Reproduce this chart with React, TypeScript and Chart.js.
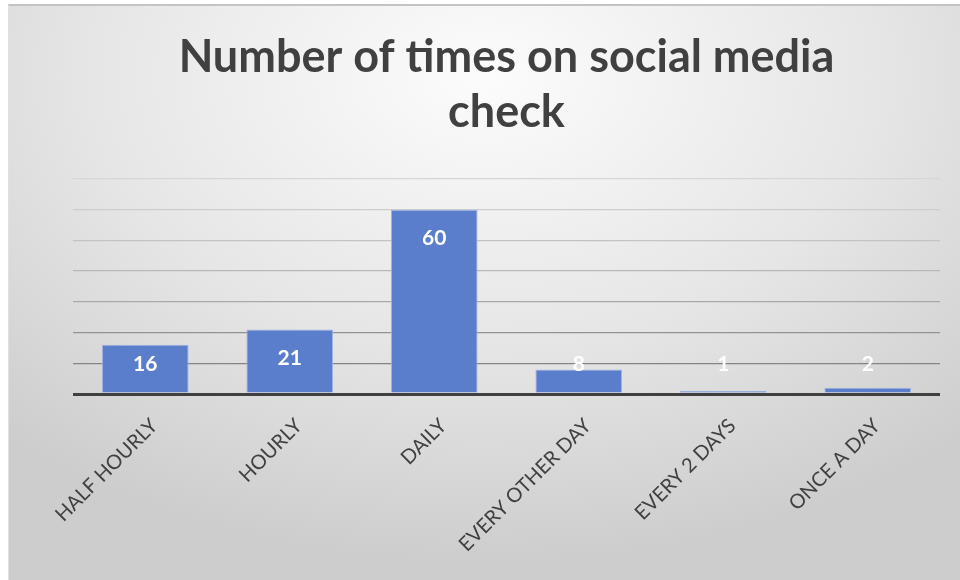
import React, { useEffect, useRef } from "react";
import { Chart, registerables } from "chart.js";

Chart.register(...registerables);

const TITLE_LINES = ["Number of times on social media", "check"];
const CATEGORIES = ["HALF HOURLY", "HOURLY", "DAILY", "EVERY OTHER DAY", "EVERY 2 DAYS", "ONCE A DAY"];
const VALUES = [16, 21, 60, 8, 1, 2];
const Y_TICKS = [0, 10, 20, 30, 40, 50, 60, 70];

const GRID_COLORS: Record<number, string> = {
  10: "#858585",
  20: "#939393",
  30: "#a9a9a9",
  40: "#b8b8b8",
  50: "#c3c3c3",
  60: "#cdcdcd",
  70: "#d6d6d6",
};

const valueLabels = {
  id: "valueLabels",
  afterDatasetsDraw(chart: any) {
    const ctx = chart.ctx;
    const meta = chart.getDatasetMeta(0);
    ctx.save();
    ctx.fillStyle = "#ffffff";
    ctx.font = "bold 21px Lato";
    ctx.textAlign = "center";
    ctx.textBaseline = "middle";
    meta.data.forEach((bar: any, i: number) => {
      const y = Math.min(bar.y + 29, bar.base - 28);
      ctx.fillText(String(VALUES[i]), bar.x, y);
    });
    ctx.restore();
  },
};

export default function App() {
  const ref = useRef<HTMLCanvasElement>(null);
  useEffect(() => {
    if (!ref.current) return;
    const chart = new Chart(ref.current, {
      type: "bar",
      data: {
        labels: CATEGORIES,
        datasets: [
          {
            data: VALUES,
            backgroundColor: "#5a7ecb",
            borderColor: "#9db4e2",
            borderWidth: 1,
            barPercentage: 0.6,
            categoryPercentage: 1,
          },
        ],
      },
      options: {
        animation: false,
        responsive: false,
        maintainAspectRatio: false,
        layout: { padding: { left: 64, right: 20, top: 0, bottom: 0 } },
        plugins: {
          legend: { display: false },
          tooltip: { enabled: false },
          title: {
            display: true,
            text: TITLE_LINES,
            color: "#404040",
            font: { family: "Lato", weight: "bold", size: 45, lineHeight: 1.222 },
            padding: { top: 24, bottom: 39 },
          },
        },
        scales: {
          x: {
            grid: { display: false, drawTicks: false },
            border: { display: false },
            ticks: {
              color: "#404040",
              font: { family: "Lato", size: 20 },
              maxRotation: 45,
              minRotation: 45,
              padding: 20,
              labelOffset: 9,
            },
            afterFit: (scale: any) => {
              scale.height = 186;
            },
          },
          y: {
            min: 0,
            max: 70,
            afterBuildTicks: (scale: any) => {
              scale.ticks = Y_TICKS.map((v) => ({ value: v }));
            },
            ticks: { display: false },
            border: { display: false },
            grid: {
              drawTicks: false,
              color: (c: any) => (c.tick && c.tick.value === 0 ? "#404040" : GRID_COLORS[c.tick ? c.tick.value : 10] || "#bbbbbb"),
              lineWidth: (c: any) => (c.tick && c.tick.value === 0 ? 3 : 1.3),
            },
          },
        },
      },
      plugins: [valueLabels],
    });
    return () => chart.destroy();
  }, []);

  return (
    <div
      style={{
        position: "fixed",
        left: 8,
        top: 4,
        width: 952,
        height: 576,
        boxSizing: "border-box",
        borderTop: "2px solid #c4c4c4",
        borderLeft: "1px solid #e0e0e0",
        background:
          "radial-gradient(ellipse 75% 85% at 50% 12%, #fcfcfc 0%, #e6e6e6 55%, #cdcdcd 100%)",
      }}
    >
      <canvas ref={ref} width={951} height={574} style={{ display: "block" }} />
    </div>
  );
}
